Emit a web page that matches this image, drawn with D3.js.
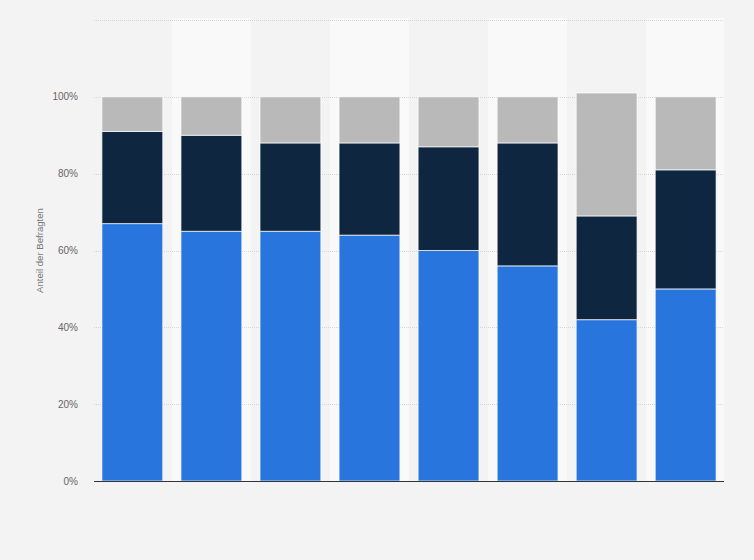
<!DOCTYPE html>
<html>
<head>
<meta charset="utf-8">
<script src="https://cdn.jsdelivr.net/npm/d3@7"></script>
<style>
  body { margin: 0; background: #f3f3f3; }
  svg { display: block; }
</style>
</head>
<body>
<svg id="chart" width="754" height="560"></svg>
<script>
// one entry per bar (labels are not shown in the picture)
const categories = ["1", "2", "3", "4", "5", "6", "7", "8"];
const seriesNames = ["A", "B", "C"];
const seriesBlue = [67, 65, 65, 64, 60, 56, 42, 50];
const seriesNavy = [24, 25, 23, 24, 27, 32, 27, 31];
const seriesGray = [9, 10, 12, 12, 13, 12, 32, 19];
const yTicks = [0, 20, 40, 60, 80, 100, 120];
const colors = ["#2876dd", "#0f2640", "#b9b9b9"];

const svg = d3.select("#chart");
const width = 754, height = 560;
const margin = {top: 20, right: 30, bottom: 79, left: 94};

const rows = categories.map((c, i) => ({
    cat: c, A: seriesBlue[i], B: seriesNavy[i], C: seriesGray[i]
}));

const x = d3.scaleBand()
    .domain(categories)
    .range([margin.left, width - margin.right])
    .paddingInner(0.23)
    .paddingOuter(0.1);

const y = d3.scaleLinear()
    .domain([0, 120])
    .range([height - margin.bottom, margin.top]);

// alternating column bands
const half = x.step() * x.paddingInner() / 2;
svg.append("g")
    .selectAll("rect")
    .data(categories)
    .join("rect")
    .attr("x", d => Math.max(margin.left, x(d) - half))
    .attr("y", margin.top - 2)
    .attr("width", d => Math.min(width - margin.right, x(d) + x.bandwidth() + half) - Math.max(margin.left, x(d) - half))
    .attr("height", height - margin.bottom - margin.top + 2)
    .attr("fill", (d, i) => i % 2 ? "#f9f9f9" : "#f3f3f3");

// grid
svg.append("g")
    .selectAll("line")
    .data(yTicks.filter(t => t > 0))
    .join("line")
    .attr("x1", margin.left)
    .attr("x2", width - margin.right)
    .attr("y1", d => Math.round(y(d)) + 0.5)
    .attr("y2", d => Math.round(y(d)) + 0.5)
    .attr("stroke", "#d6d6d6")
    .attr("stroke-dasharray", "1,1");

// y labels (top tick has no label)
svg.append("g")
    .attr("font-family", "Liberation Sans, Arial, sans-serif")
    .attr("font-size", 10)
    .attr("fill", "#666")
    .selectAll("text")
    .data(yTicks.filter(t => t < 120))
    .join("text")
    .attr("x", 78)
    .attr("y", d => y(d))
    .attr("dy", "0.35em")
    .attr("text-anchor", "end")
    .text(d => d + "%");

svg.append("text")
    .attr("transform", `translate(43,${y(60)}) rotate(-90)`)
    .attr("text-anchor", "middle")
    .attr("font-family", "Liberation Sans, Arial, sans-serif")
    .attr("font-size", 9.6)
    .attr("fill", "#777")
    .text("Anteil der Befragten");

// stacked bars
const stacked = d3.stack().keys(seriesNames)(rows);

svg.append("g")
    .selectAll("g")
    .data(stacked)
    .join("g")
    .attr("fill", (d, i) => colors[i])
    .selectAll("rect")
    .data(d => d)
    .join("rect")
    .attr("x", d => x(d.data.cat))
    .attr("y", d => y(d[1]))
    .attr("width", x.bandwidth())
    .attr("height", d => y(d[0]) - y(d[1]))
    .attr("stroke", "#fff")
    .attr("stroke-opacity", 0.7)
    .attr("stroke-width", 1);

// baseline
svg.append("line")
    .attr("x1", margin.left)
    .attr("x2", width - margin.right)
    .attr("y1", y(0) + 0.5)
    .attr("y2", y(0) + 0.5)
    .attr("stroke", "#333")
    .attr("stroke-width", 1.2);
</script>
</body>
</html>
